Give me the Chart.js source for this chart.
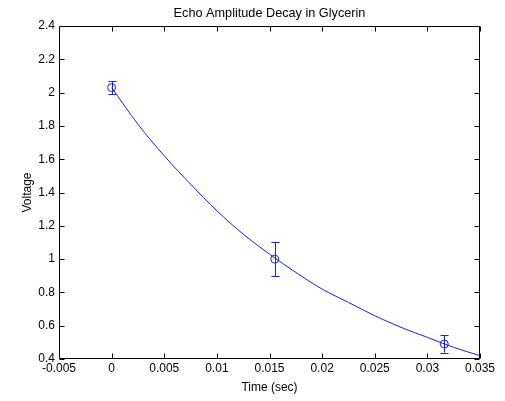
<!DOCTYPE html>
<html>
<head>
<meta charset="utf-8">
<script src="https://cdn.jsdelivr.net/npm/chart.js@4.4.0/dist/chart.umd.min.js"></script>
<style>
html,body{margin:0;padding:0;background:#fff;}
#wrap{width:505px;height:401px;}
</style>
</head>
<body>
<div id="wrap"><canvas id="c" width="505" height="401"></canvas></div>
<script>
// Measured echo amplitudes
const timeVals = [0, 0.0155, 0.0316];
const voltVals = [2.03, 1.00, 0.49];
const voltErr  = [0.038, 0.103, 0.052];

// Fitted decay curve
const fitTime = [0, 0.0025, 0.005, 0.0075, 0.01, 0.0125, 0.015, 0.0175, 0.02, 0.0225, 0.025, 0.0275, 0.03, 0.0325, 0.035];
const fitVolt = [2.03, 1.81, 1.62, 1.45, 1.29, 1.15, 1.03, 0.92, 0.82, 0.74, 0.66, 0.59, 0.53, 0.47, 0.42];

// Axis ticks
const xTickVals = [-0.005, 0, 0.005, 0.01, 0.015, 0.02, 0.025, 0.03, 0.035];
const xTickLabels = ['-0.005', '0', '0.005', '0.01', '0.015', '0.02', '0.025', '0.03', '0.035'];
const yTickVals = [0.4, 0.6, 0.8, 1.0, 1.2, 1.4, 1.6, 1.8, 2.0, 2.2, 2.4];
const yTickLabels = ['0.4', '0.6', '0.8', '1', '1.2', '1.4', '1.6', '1.8', '2', '2.2', '2.4'];

const chartTitle = 'Echo Amplitude Decay in Glycerin';

const FONT = '"Liberation Sans", Arial, Helvetica, sans-serif';
const BLUE = '#1f1fd6';

const matlabFrame = {
  id: 'matlabFrame',
  afterDatasetsDraw(chart) {
    const ctx = chart.ctx;
    const a = chart.chartArea;
    const xs = chart.scales.x, ys = chart.scales.y;
    ctx.save();
    // error bars
    ctx.strokeStyle = BLUE;
    ctx.lineWidth = 1;
    for (let i = 0; i < timeVals.length; i++) {
      const px = Math.round(xs.getPixelForValue(timeVals[i])) + 0.5;
      const top = ys.getPixelForValue(voltVals[i] + voltErr[i]);
      const bot = ys.getPixelForValue(voltVals[i] - voltErr[i]);
      ctx.beginPath();
      ctx.moveTo(px, top); ctx.lineTo(px, bot);
      ctx.moveTo(px - 4, Math.round(top) + 0.5); ctx.lineTo(px + 4, Math.round(top) + 0.5);
      ctx.moveTo(px - 4, Math.round(bot) + 0.5); ctx.lineTo(px + 4, Math.round(bot) + 0.5);
      ctx.stroke();
    }
    // frame
    ctx.strokeStyle = '#000';
    const L = Math.round(a.left) + 0.5, R = Math.round(a.right) - 0.5;
    const T = Math.round(a.top) + 0.5, B = Math.round(a.bottom) - 0.5;
    ctx.beginPath();
    ctx.rect(L, T, R - L, B - T);
    // inward ticks
    const tl = 5;
    xs.ticks.forEach(t => {
      const p = Math.round(xs.getPixelForValue(t.value)) + 0.5;
      ctx.moveTo(p, B); ctx.lineTo(p, B - tl);
      ctx.moveTo(p, T); ctx.lineTo(p, T + tl);
    });
    ys.ticks.forEach(t => {
      const p = Math.round(ys.getPixelForValue(t.value)) + 0.5;
      ctx.moveTo(L, p); ctx.lineTo(L + tl, p);
      ctx.moveTo(R, p); ctx.lineTo(R - tl, p);
    });
    ctx.stroke();
    // title centred over the plot area
    ctx.fillStyle = '#000';
    ctx.font = '12.7px ' + FONT;
    ctx.textAlign = 'center';
    ctx.textBaseline = 'middle';
    ctx.fillText(chartTitle, (a.left + a.right) / 2, 13);
    ctx.restore();
  }
};

new Chart(document.getElementById('c'), {
  type: 'line',
  data: {
    datasets: [
      {
        label: 'Fit',
        data: fitTime.map((t, i) => ({x: t, y: fitVolt[i]})),
        borderColor: BLUE,
        borderWidth: 1,
        pointRadius: 0,
        fill: false,
        cubicInterpolationMode: 'monotone'
      },
      {
        label: 'Measured',
        data: timeVals.map((t, i) => ({x: t, y: voltVals[i]})),
        showLine: false,
        borderColor: BLUE,
        backgroundColor: 'rgba(0,0,0,0)',
        pointStyle: 'circle',
        pointRadius: 4,
        pointBorderWidth: 1
      }
    ]
  },
  options: {
    responsive: false,
    animation: false,
    devicePixelRatio: 1,
    layout: {padding: {left: 0, right: 25, top: 26, bottom: 0}},
    plugins: {
      legend: {display: false},
      tooltip: {enabled: false},
      title: {display: false}
    },
    scales: {
      x: {
        type: 'linear',
        min: -0.005, max: 0.035,
        afterBuildTicks(s) { s.ticks = xTickVals.map(v => ({value: v})); },
        afterFit(s) { s.height = 42; },
        grid: {display: false, drawTicks: false},
        border: {display: false},
        ticks: {
          color: '#000',
          font: {family: FONT, size: 12},
          padding: 2,
          maxRotation: 0,
          autoSkip: false,
          callback: (v, i) => xTickLabels[i]
        },
        title: {
          display: true,
          text: 'Time (sec)',
          color: '#000',
          font: {family: FONT, size: 12},
          padding: {top: 0, bottom: 6}
        }
      },
      y: {
        type: 'linear',
        min: 0.4, max: 2.4,
        afterBuildTicks(s) { s.ticks = yTickVals.map(v => ({value: v})); },
        afterFit(s) { s.width = 59; },
        grid: {display: false, drawTicks: false},
        border: {display: false},
        ticks: {
          color: '#000',
          font: {family: FONT, size: 12},
          padding: 4,
          autoSkip: false,
          callback: (v, i) => yTickLabels[i]
        },
        title: {
          display: true,
          text: 'Voltage',
          color: '#000',
          font: {family: FONT, size: 12},
          padding: {top: 20, bottom: 0}
        }
      }
    }
  },
  plugins: [matlabFrame]
});
</script>
</body>
</html>
